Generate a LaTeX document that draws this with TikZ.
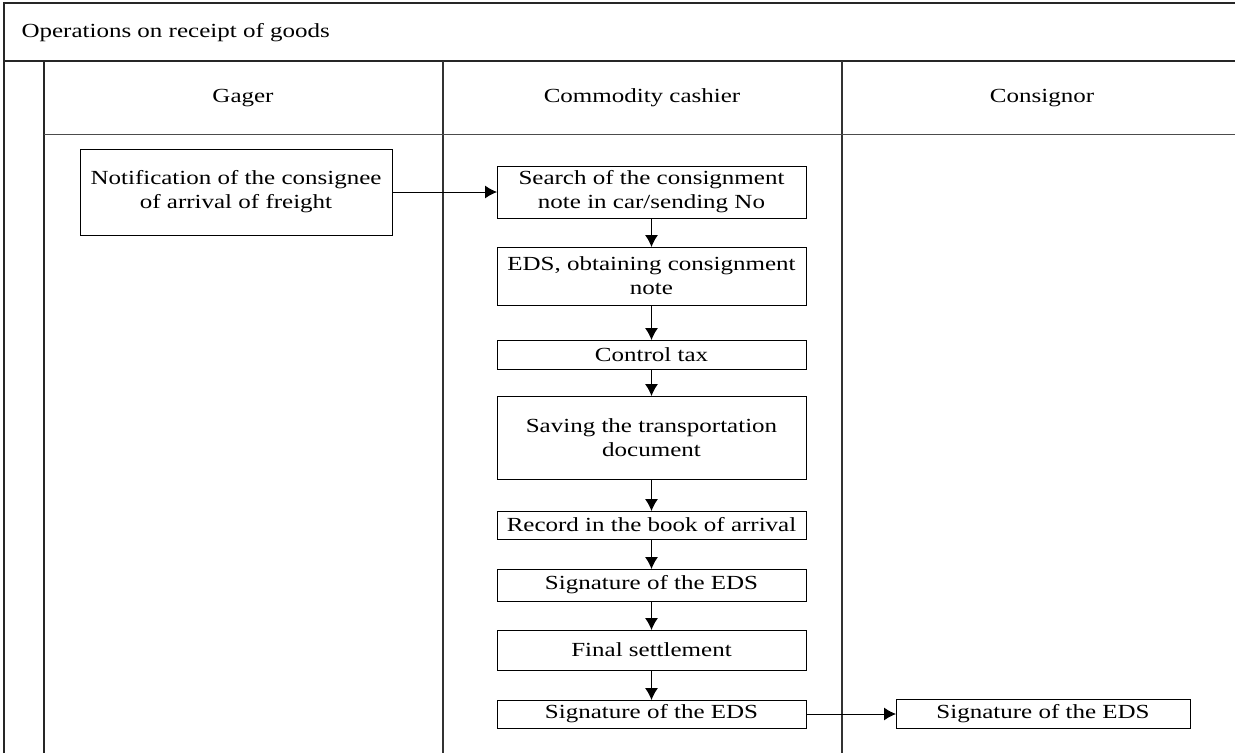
\documentclass[tikz,border=0pt]{standalone}
\usepackage{fontspec}
\setmainfont{Liberation Serif}[FakeStretch=1.25]
\usetikzlibrary{arrows.meta}

\tikzset{
  box/.style={draw, line width=1pt, inner sep=0pt, outer sep=0pt, align=center},
  flow/.style={-{Latex[length=12pt,width=13pt]}, line width=1pt},
  frame/.style={line width=1.8pt, draw=black!85},
  lane/.style={line width=1.2pt, draw=black!80},
}

\begin{document}
\begin{tikzpicture}[x=1pt,y=-1pt,font=\fontsize{20}{24}\selectfont]
  \useasboundingbox (0,0) rectangle (1235,753);
  % pool and lanes
  \draw[frame] (4,753) -- (4,3) -- (1235,3);
  \draw[frame] (4,61) -- (1235,61);
  \draw[frame] (44,61) -- (44,753);
  \draw[lane] (443,61) -- (443,753);
  \draw[lane] (842,61) -- (842,753);
  \draw[line width=1pt, draw=black!70] (44,134) -- (1235,134);

  \node[anchor=west] (title) at (18,33) {Operations on receipt of goods};
  \node (gager) at (243,98) {Gager};
  \node (cashier) at (642,98) {Commodity cashier};
  \node (consignor) at (1042,98) {Consignor};

  % steps
  \node[box, minimum width=312, minimum height=86] (notif) at (236,192)
    {Notification of the consignee\\of arrival of freight};
  \node[box, minimum width=309, minimum height=52] (search) at (651.5,192)
    {Search of the consignment\\note in car/sending No};
  \node[box, minimum width=309, minimum height=58] (eds) at (651.5,276)
    {EDS, obtaining consignment\\note};
  \node[box, minimum width=309, minimum height=29] (tax) at (651.5,354.5)
    {Control tax};
  \node[box, minimum width=309, minimum height=83] (saving) at (651.5,437.5)
    {Saving the transportation\\document};
  \node[box, minimum width=309, minimum height=28] (record) at (651.5,525)
    {Record in the book of arrival};
  \node[box, minimum width=309, minimum height=32] (sigA) at (651.5,585)
    {Signature of the EDS};
  \node[box, minimum width=309, minimum height=40] (final) at (651.5,650)
    {Final settlement};
  \node[box, minimum width=309, minimum height=28] (sigB) at (651.5,714)
    {Signature of the EDS};
  \node[box, minimum width=294, minimum height=29] (sigC) at (1043,713.5)
    {Signature of the EDS};

  \draw[flow] (notif) -- (search);
  \foreach \a/\b in {search/eds, eds/tax, tax/saving, saving/record,
                     record/sigA, sigA/final, final/sigB}
    \draw[flow] (\a) -- (\b);
  \draw[flow] (sigB.east) -- (sigB.east -| sigC.west);
\end{tikzpicture}
\end{document}
